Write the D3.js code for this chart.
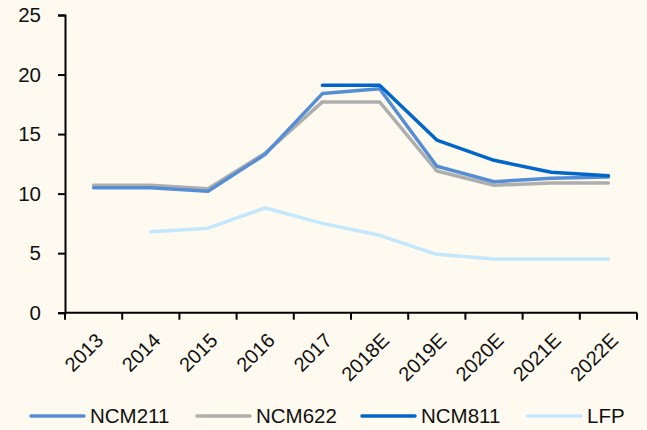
<!DOCTYPE html>
<html>
<head>
<meta charset="utf-8">
<script src="https://cdn.jsdelivr.net/npm/d3@7"></script>
<style>
  html, body { margin: 0; padding: 0; background: #FEFAEF; }
  svg { display: block; font-family: "Liberation Sans", Arial, sans-serif; }
</style>
</head>
<body>
<svg id="chart" width="647" height="430"></svg>
<script>
const categories = ["2013", "2014", "2015", "2016", "2017", "2018E", "2019E", "2020E", "2021E", "2022E"];
const ncm211 = [10.5, 10.5, 10.2, 13.3, 18.4, 18.8, 12.3, 11.0, 11.3, 11.4];
const ncm622 = [10.7, 10.7, 10.4, 13.4, 17.7, 17.7, 11.9, 10.7, 10.9, 10.9];
const ncm811 = [null, null, null, null, 19.1, 19.1, 14.5, 12.8, 11.8, 11.5];
const lfp    = [null, 6.8, 7.1, 8.8, 7.5, 6.5, 4.9, 4.5, 4.5, 4.5];
const yTicks = [0, 5, 10, 15, 20, 25];

const series = [
  { name: "NCM211", values: ncm211, color: "#558ED5" },
  { name: "NCM622", values: ncm622, color: "#AEAEAE" },
  { name: "NCM811", values: ncm811, color: "#0066CC" },
  { name: "LFP",    values: lfp,    color: "#C3E7FC" }
];

const svg = d3.select("#chart");
const plotLeft = 65, plotRight = 637;

const x = d3.scaleBand().domain(categories).range([plotLeft, plotRight]).padding(0);
const y = d3.scaleLinear().domain([0, 25]).range([312.7, 15]);

// Y axis
const yAxis = svg.append("g")
  .attr("transform", `translate(${plotLeft},0)`)
  .call(d3.axisLeft(y).tickValues(yTicks).tickSize(7).tickPadding(17));
yAxis.select(".domain").attr("stroke", "#000").attr("stroke-width", 2);
yAxis.selectAll(".tick line").attr("stroke", "#000").attr("stroke-width", 2);
yAxis.selectAll(".tick text")
  .attr("font-size", 20.5)
  .attr("fill", "#111")
  .attr("font-family", "Liberation Sans, Arial, sans-serif");

// X axis with ticks at category boundaries
const xAxisG = svg.append("g").attr("transform", `translate(0,${y(0)})`);
xAxisG.append("line")
  .attr("x1", plotLeft).attr("x2", plotRight)
  .attr("stroke", "#000").attr("stroke-width", 2);
const bounds = categories.map(c => x(c)).concat([x(categories[categories.length - 1]) + x.bandwidth()]);
xAxisG.selectAll("line.tk").data(bounds).enter().append("line")
  .attr("class", "tk")
  .attr("x1", d => d).attr("x2", d => d)
  .attr("y1", 0).attr("y2", 7)
  .attr("stroke", "#000").attr("stroke-width", 2);
xAxisG.selectAll("text").data(categories).enter().append("text")
  .attr("transform", d => `translate(${x(d) + x.bandwidth() / 2 + 6},${24}) rotate(-45)`)
  .attr("text-anchor", "end")
  .attr("dy", "0.35em")
  .attr("font-size", 20)
  .attr("fill", "#111")
  .text(d => d);

// Lines
const line = d3.line()
  .defined(d => d.v != null)
  .x(d => x(d.c) + x.bandwidth() / 2)
  .y(d => y(d.v));

const drawOrder = [series[3], series[1], series[0], series[2]];
svg.selectAll("path.series").data(drawOrder).enter().append("path")
  .attr("class", "series")
  .attr("fill", "none")
  .attr("stroke", d => d.color)
  .attr("stroke-width", 3.5)
  .attr("stroke-linejoin", "round")
  .attr("stroke-linecap", "round")
  .attr("d", d => line(categories.map((c, i) => ({ c, v: d.values[i] }))));

// Legend
const legendX = [31, 197, 362, 528];
const lg = svg.selectAll("g.legend").data(series).enter().append("g")
  .attr("class", "legend")
  .attr("transform", (d, i) => `translate(${legendX[i]},416)`);
lg.append("line")
  .attr("x1", 0).attr("x2", 53)
  .attr("stroke", d => d.color).attr("stroke-width", 3.5)
  .attr("stroke-linecap", "round");
lg.append("text")
  .attr("x", 59).attr("dy", "0.36em")
  .attr("font-size", 20.5).attr("fill", "#111")
  .text(d => d.name);
</script>
</body>
</html>
